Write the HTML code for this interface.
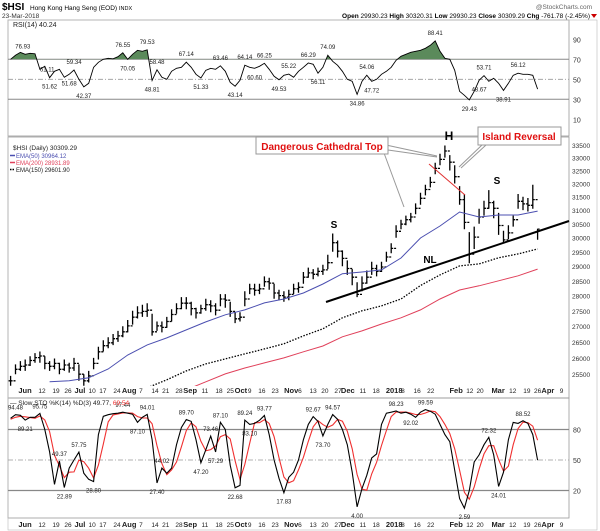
<!DOCTYPE html>
<html><head><meta charset="utf-8"><style>
html,body{margin:0;padding:0;background:#fff;}
svg{display:block;font-family:"Liberation Sans",sans-serif;}
</style></head><body>
<svg id="chart" width="600" height="531" viewBox="0 0 600 531" xmlns="http://www.w3.org/2000/svg"></svg>
<script>
// ---- data ----
const closes=[25300,25650,25740,25780,25920,26010,26060,25830,25740,25830,
25650,25780,25690,25830,25500,25300,25450,25830,26190,26380,
26470,26600,26690,26820,27010,27290,27430,27480,27520,26820,
27010,26960,27150,27380,27570,27750,27750,27570,27430,27570,
27700,27660,27520,27890,27850,27480,27240,27290,27890,28230,
28180,28230,28470,28420,28090,28000,27950,28040,28230,28280,
28620,28770,28720,28820,28870,29120,29820,29520,29270,28920,
28620,28040,28420,28620,28920,28820,28970,29320,29620,30230,
30490,30650,30750,31070,31440,31770,32040,32580,32930,33260,
32820,32260,31390,30550,29420,30020,30750,31070,31280,31070,
30440,29920,30170,30650,31330,31230,31180,31390,30309];
const highs=[25450,25800,25900,25950,26050,26150,26200,26050,25900,25980,
25850,25950,25850,26000,25800,25500,25600,26000,26350,26550,
26650,26750,26850,27000,27200,27500,27650,27700,27750,27400,
27150,27150,27300,27550,27750,27950,27950,27800,27600,27700,
27900,27850,27750,28050,28050,27800,27450,27450,28150,28400,
28400,28400,28650,28600,28400,28200,28150,28200,28400,28450,
28800,28950,28900,28950,29050,29400,30150,29900,29550,29200,
28900,28450,28650,28850,29150,29050,29150,29500,29800,30450,
30650,30800,30900,31250,31650,31950,32250,32800,33150,33480,
33100,32700,31900,31600,30200,30400,31050,31350,31750,31350,
30900,30250,30450,30800,31600,31500,31450,31950,30320];
const lows=[25150,25500,25600,25600,25750,25850,25850,25650,25600,25650,
25500,25600,25550,25600,25300,25150,25250,25650,25950,26200,
26300,26400,26500,26650,26800,27050,27250,27300,27300,26700,
26850,26800,26950,27150,27400,27550,27550,27350,27250,27400,
27500,27450,27350,27650,27600,27300,27100,27150,27650,28050,
28000,28050,28300,28200,27900,27850,27800,27850,28050,28100,
28400,28600,28550,28650,28700,28900,29500,29300,29000,28700,
28350,27950,28150,28400,28700,28650,28800,29150,29450,30000,
30300,30450,30550,30850,31200,31550,31850,32350,32700,33000,
32500,32000,31200,30300,29100,29600,30500,30800,31050,30700,
30100,29800,29950,30400,31050,31000,30950,31050,29930];
// EMA values sampled every 4 bars (index 0,4,8,...,108)
const ema50=[null,null,25270,25300,25390,25660,26090,26405,26625,26880,27140,27370,27530,27760,27890,28090,28390,28740,28800,28870,29285,29990,30420,30930,30750,30820,30820,30964];
const ema150=[null,null,null,null,null,null,null,25090,25330,25600,25815,25970,26125,26280,26440,26690,26915,27270,27500,27660,27890,28340,28700,29010,29080,29290,29425,29600];
const ema200=[null,null,null,null,null,null,null,null,null,25030,25270,25510,25690,25845,26000,26190,26370,26660,26850,27070,27270,27530,27890,28190,28330,28500,28670,28900];
const rsi=[70,74,76.9,75,76,75.5,60,63,51.6,58,
60,52,55,59.3,50,42.4,46,62,67,70,
71,70.5,72.6,76.5,70,75,79,78,79.5,48.8,
59.5,52,50,58,61,62,67.1,62,55,51.3,
59,61,60,63.5,58,47,43.1,49,64.1,62,
61,63,66,60,53,49.5,54,55.2,52,58,
62,66.3,65,56.1,62,74.1,68,64,58,50,
48,34.9,48,54.1,48,50,55,58,62,69,
73,75,77,78,79,81,84,88.4,78,71,
70,59,38,34,29.4,38,49,53.7,48,51,
46,38.9,46,54,56.1,55,55,54,40.2];
const stoK=[91,94.5,94,89.2,92,92,95.8,80,58,26,
49,23,42,50,57.8,37,31,28.8,75,93,
94.5,95.5,96,97,96,95,87.1,92,94.8,70,
27.4,42,37,42,65,82,89.7,88,70,47.2,
60,73.5,58,87.1,80,45,22.7,25,89.2,85,
86,89,93.8,75,50,32,17.8,33,38,50,
70,85,92.7,88,73.7,85,94.6,90,80,65,
38,4,22,35,52,56,85,96,97,98.2,
96,97,95,92,97,99.6,98,95,85,75,
68,40,12,2.6,20,48,55,65,72.3,55,
24,38,70,87,86,88.5,86,75,49.8];
const stoD=[90,92,93,92.5,91.7,91,93.3,89.3,77.9,54.7,
44.3,32.7,38,38.3,49.9,48.3,41.9,32.3,45,65.6,
87.5,94.3,95.3,96.2,96.3,96,92.7,91.4,91.3,85.6,
64,46.5,35.5,40.3,48,63,78.9,86.6,82.6,68.4,
59,60.2,63.8,72.9,75,70.7,49.2,30.9,45.6,66.4,
86.7,86.7,89.6,85.9,72.9,52.3,33.3,27.6,29.6,40.3,
52.7,68.3,82.6,88.6,84.8,82.2,84.4,89.9,88.2,78.3,
61,35.7,21.3,20.3,36.3,47.7,64.3,79,92.7,97.1,
97.1,97.1,96,94.7,94.7,96.2,98.2,97.5,92.7,85,
76,61,40,18.2,11.5,23.5,41,56,64.1,64.1,
50.4,39,44,65,81,87.2,86.8,83.2,69.5];
const priceTicks=[25500,26000,26500,27000,27500,28000,28500,29000,29500,30000,30500,31000,31500,32000,32500,33000,33500];
const rsiTicks=[10,30,50,70,90];
const stoTicks=[20,50,80];
const dateLabels=['Jun','12','19','26','Jul','10','17','24','Aug','7','14','21','28','Sep','11','18','25','Oct','9','16','23','Nov','6','13','20','27','Dec','11','18','2018','8','16','22','Feb','12','20','Mar','12','19','26','Apr','9'];
const dateIdx=[2.95,6.43,9.3,11.76,14.2,16.7,18.9,21.8,24.3,26.7,29.6,31.8,34.5,36.8,39.8,42.7,45,47.2,49,51.5,54.2,57.5,59.3,62,64.4,67.1,69.1,72.2,74.9,78.6,80.4,83.3,86.1,91.3,94.1,96.2,99.9,102.9,105.8,108,110.1,112.9];
const rsiNotes=[[2.5,'76.93',1],[7.5,'61.11',1],[8,'51.62',0],[12,'51.68',0],[13,'59.34',1],[15,'42.37',0],[23,'76.55',1],[24,'70.05',0],[28,'79.53',1],[29,'48.81',0],[30,'58.48',1],[36,'67.14',1],[39,'51.33',0],[43,'63.46',1],[46,'43.14',0],[48,'64.14',1],[50,'60.60',0],[52,'66.25',1],[55,'49.53',0],[57,'55.22',1],[61,'66.29',1],[63,'56.11',0],[65,'74.09',1],[71,'34.86',0],[73,'54.06',1],[74,'47.72',0],[87,'88.41',1],[94,'29.43',0],[97,'53.71',1],[96,'48.67',0],[101,'38.91',0],[104,'56.12',1]];
const stoNotes=[[1,'94.48',1],[3,'89.21',0],[6,'95.75',1],[11,'22.89',0],[10,'49.37',1],[14,'57.75',1],[17,'28.80',0],[23,'97.44',1],[26,'87.10',0],[28,'94.01',1],[30,'27.40',0],[31,'44.02',1],[36,'89.70',1],[39,'47.20',0],[41,'73.46',1],[42,'57.29',0],[43,'87.10',1],[46,'22.68',0],[48,'89.24',1],[49,'83.10',0],[52,'93.77',1],[56,'17.83',0],[62,'92.67',1],[64,'73.70',0],[66,'94.57',1],[71,'4.00',0],[79,'98.23',1],[82,'92.02',0],[85,'99.59',1],[93,'2.59',0],[98,'72.32',1],[100,'24.01',0],[105,'88.52',1]];

// ---- scales ----
const L=8,R=569;
const xS=k=>10.6+4.88*k;
const yP=p=>145+Math.log(33500/p)*840;
const yR=v=>59.3+(70-v)*1.0;
const yS=v=>460+(50-v)*1.017;
const NS='http://www.w3.org/2000/svg';
const svg=document.getElementById('chart');
function mk(tag,attrs,parent){const e=document.createElementNS(NS,tag);for(const k in attrs)e.setAttribute(k,attrs[k]);(parent||svg).appendChild(e);return e;}
function txt(s,x,y,size,attrs,parent){const t=mk('text',Object.assign({x:x,y:y,'font-size':size},attrs||{}),parent);t.textContent=s;return t;}

// defs / clips
const defs=mk('defs',{});
const c1=mk('clipPath',{id:'cpMain'},defs);mk('rect',{x:L,y:137,width:R-L,height:249},c1);
const c2=mk('clipPath',{id:'cpRsi'},defs);mk('rect',{x:L,y:20,width:R-L,height:116},c2);
const c3=mk('clipPath',{id:'cpRsiUp'},defs);mk('rect',{x:L,y:20,width:R-L,height:yR(70)-20},c3);
const c4=mk('clipPath',{id:'cpSto'},defs);mk('rect',{x:L,y:398,width:R-L,height:120},c4);

// ---- header ----
const hdr=mk('g',{});


txt('$HSI',2,10,10,{'font-weight':'bold'},hdr);
txt('Hong Kong Hang Seng (EOD)',30,10,6.5,{},hdr);
txt('INDX',119,10,5.5,{},hdr);
txt('23-Mar-2018',2,18,6.5,{fill:'#333'},hdr);
txt('@StockCharts.com',592,9,6.5,{'text-anchor':'end',fill:'#666'},hdr);
const ohlc=txt('',590,18,6.5,{'text-anchor':'end'},hdr);
ohlc.innerHTML='<tspan font-weight="bold">Open</tspan> 29930.23 <tspan font-weight="bold">High</tspan> 30320.31 <tspan font-weight="bold">Low</tspan> 29930.23 <tspan font-weight="bold">Close</tspan> 30309.29 <tspan font-weight="bold">Chg</tspan> -761.78 (-2.45%)';
mk('path',{d:'M591,14 L597,14 L594,18 Z',fill:'#c00'},hdr);

// ---- panel frames ----
[[20,116],[137,261],[398,120]].forEach((p,i)=>{
  const r=mk('rect',{x:L,y:p[0],width:R-L,height:p[1],fill:'none',stroke:'#999','stroke-width':0.8});
  
  
});
mk('rect',{x:L,y:20,width:589,height:510,fill:'none',stroke:'#bbb','stroke-width':0.6});

// ---- RSI panel ----
const gR=mk('g',{});


rsiTicks.forEach(v=>{
  const y=yR(v);
  if(v===70||v===30){mk('line',{x1:L,x2:R,y1:y,y2:y,stroke:'#888','stroke-width':1},gR);}
  if(v===50){mk('line',{x1:L,x2:R,y1:y,y2:y,stroke:'#999','stroke-width':0.8,'stroke-dasharray':'5,2,1,2'},gR);}
  const t=txt(String(v),573,y+3,7,{fill:'#333'},gR);
  
  
});
let rpts=rsi.map((v,k)=>xS(k).toFixed(1)+','+yR(v).toFixed(1));
const rFill=mk('path',{d:'M'+xS(0)+','+yR(70)+' L'+rpts.join(' L')+' L'+xS(rsi.length-1)+','+yR(70)+' Z',fill:'#5b8a5b','clip-path':'url(#cpRsiUp)'},gR);


const rLine=mk('path',{d:'M'+rpts.join(' L'),fill:'none',stroke:'#000','stroke-width':0.9,'clip-path':'url(#cpRsi)'},gR);


rsiNotes.forEach(n=>{
  const x=xS(n[0]),y=yR(rsi[Math.round(n[0])])+(n[2]?-6:11);
  const t=txt(n[1],x,y,6,{'text-anchor':'middle',fill:'#222'},gR);
  
  
});
const rl=txt('RSI(14) 40.24',13,27,7,{fill:'#222'},gR);



// ---- Price panel ----
const gP=mk('g',{});


priceTicks.forEach(p=>{
  const t=txt(String(p),572,yP(p)+3,6.5,{fill:'#333'},gP);
  
  
});
const gB=mk('g',{'clip-path':'url(#cpMain)'},gP);
closes.forEach((c,k)=>{
  const x=xS(k);
  const b=mk('path',{d:'M'+x.toFixed(1)+','+yP(highs[k]).toFixed(1)+' L'+x.toFixed(1)+','+yP(lows[k]).toFixed(1)+' M'+(x-2).toFixed(1)+','+yP(k>0?closes[k-1]:c).toFixed(1)+' L'+x.toFixed(1)+','+yP(k>0?closes[k-1]:c).toFixed(1)+' M'+x.toFixed(1)+','+yP(c).toFixed(1)+' L'+(x+2).toFixed(1)+','+yP(c).toFixed(1),stroke:'#000','stroke-width':1.3,fill:'none'},gB);
  
  
});
function emaPath(arr,color,dash,name){
  let d='';arr.forEach((v,i)=>{if(v==null)return;d+=(d?' L':'M')+xS(i*4).toFixed(1)+','+yP(v).toFixed(1);});
  const e=mk('path',{d:d,fill:'none',stroke:color,'stroke-width':dash?1.3:1,'stroke-dasharray':dash||'none'},gB);
  
  
}
emaPath(ema50,'#4b4fb0',null,'ema50-line');
emaPath(ema200,'#e0405a',null,'ema200-line');
emaPath(ema150,'#000','1.5,1.5','ema150-line');
// neckline
const nl=mk('line',{x1:326,y1:302,x2:569,y2:221,stroke:'#000','stroke-width':2},gP);


const rd=mk('line',{x1:429,y1:164,x2:465,y2:195,stroke:'#e03030','stroke-width':1},gP);


[['S',334,228,'left-shoulder-label'],['H',449,140,'head-label'],['S',497,184,'right-shoulder-label'],['NL',430,263,'neckline-label']].forEach(a=>{
  const t=txt(a[0],a[1],a[2],a[0]==='H'?12:10,{'font-weight':'bold','text-anchor':'middle'},gP);
  
  
});
// callouts
mk('path',{d:'M384,153 L404,207 M386,145 L437,156 M388,150 L437,157',stroke:'#999','stroke-width':1,fill:'none'},gP);
mk('path',{d:'M486,145 L461,168 M482,145 L459,167',stroke:'#999','stroke-width':1,fill:'none'},gP);
const cb1=mk('rect',{x:256,y:137,width:132,height:17,fill:'#fff',stroke:'#999','stroke-width':1},gP);


txt('Dangerous Cathedral Top',322,150,10,{'font-weight':'bold',fill:'#e01010','text-anchor':'middle'},gP);
const cb2=mk('rect',{x:478,y:127,width:83,height:18,fill:'#fff',stroke:'#999','stroke-width':1},gP);


txt('Island Reversal',519,140,10,{'font-weight':'bold',fill:'#e01010','text-anchor':'middle'},gP);
// legend
const lg=mk('g',{},gP);


txt('$HSI (Daily) 30309.29',13,150,6.5,{fill:'#222'},lg);
mk('line',{x1:10,x2:15,y1:155.5,y2:155.5,stroke:'#4b4fb0','stroke-width':1.5},lg);
txt('EMA(50) 30964.12',16,158,6,{fill:'#4b4fb0'},lg);
mk('line',{x1:10,x2:15,y1:162.5,y2:162.5,stroke:'#e0405a','stroke-width':1.5},lg);
txt('EMA(200) 28931.89',16,165,6,{fill:'#e0405a'},lg);
mk('line',{x1:10,x2:15,y1:169.5,y2:169.5,stroke:'#000','stroke-width':1.5,'stroke-dasharray':'1.5,1'},lg);
txt('EMA(150) 29601.90',16,172,6,{fill:'#222'},lg);

// ---- date axes ----
[393,527].forEach((yy,ai)=>{
  dateLabels.forEach((s,i)=>{
    const bold=isNaN(+s)||s==='2018';
    const t=txt(s,xS(dateIdx[i]),yy,bold?7.5:6.5,{'text-anchor':'middle','font-weight':bold?'bold':'normal',fill:'#222'});
    
    
  });
});

// ---- Stochastic panel ----
const gS=mk('g',{});


stoTicks.forEach(v=>{
  const y=yS(v);
  if(v===50)mk('line',{x1:L,x2:R,y1:y,y2:y,stroke:'#999','stroke-width':0.8,'stroke-dasharray':'5,2,1,2'},gS);
  else mk('line',{x1:L,x2:R,y1:y,y2:y,stroke:'#888','stroke-width':1.2},gS);
  const t=txt(String(v),573,y+3,7,{fill:'#333'},gS);
  
  
});
function sLine(arr,color,name){
  const p=mk('path',{d:'M'+arr.map((v,k)=>xS(k).toFixed(1)+','+yS(v).toFixed(1)).join(' L'),fill:'none',stroke:color,'stroke-width':1.1,'clip-path':'url(#cpSto)'},gS);
  
  
}
sLine(stoD,'#f03030','stoch-d-line');
sLine(stoK,'#000','stoch-k-line');
stoNotes.forEach(n=>{
  const x=xS(n[0]),y=yS(stoK[Math.round(n[0])])+(n[2]?-5:11);
  const t=txt(n[1],x,y,6,{'text-anchor':'middle',fill:'#222'},gS);
  
  
});
const sl=txt('',10,405,6.5,{fill:'#222'},gS);
sl.innerHTML='&#8212; Slow STO %K(14) %D(3) 49.77, <tspan fill="#f03030">69.54</tspan>';


</script>
</body></html>
